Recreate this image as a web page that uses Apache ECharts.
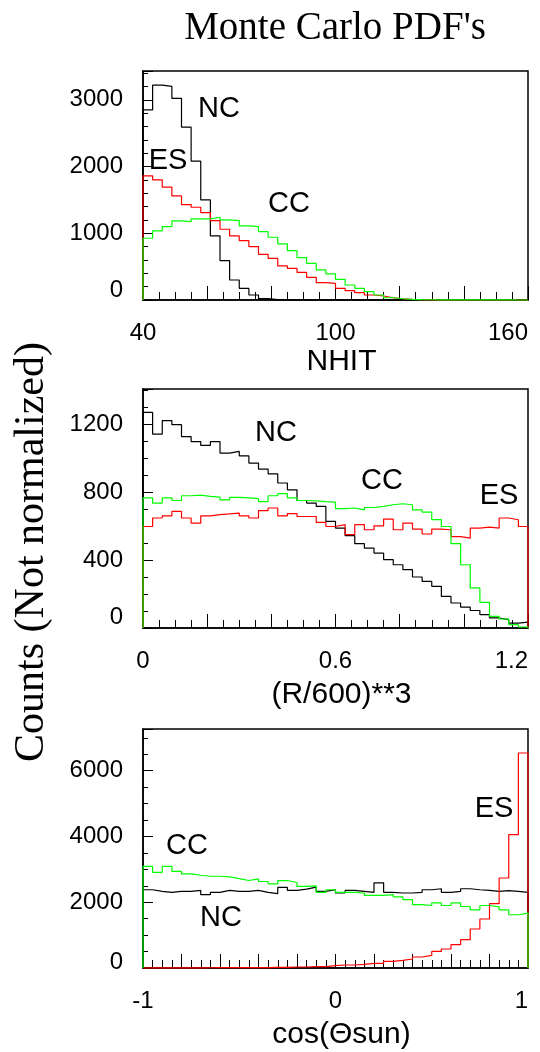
<!DOCTYPE html>
<html><head><meta charset="utf-8">
<script src="https://cdn.jsdelivr.net/npm/echarts@6/dist/echarts.min.js"></script>
<style>html,body{margin:0;padding:0;background:#fff}#c{width:540px;height:1052px}</style>
</head><body><div id="c"></div>
<script>
// ---------- data ----------
const nhitRange = [40, 160];
const nhitTickLabels = [40, 100, 160];
const nhitNC = [2850, 3220, 3200, 3020, 2590, 2080, 1500, 960, 590, 300, 175, 75, 20, 5, 0, 0, 0, 0, 0, 0,
  0, 0, 0, 0, 0, 0, 0, 0, 0, 0, 0, 0, 0, 0, 0, 0, 0, 0, 0, 0];
const nhitES = [1860, 1800, 1690, 1560, 1430, 1390, 1310, 1190, 1060, 960, 890, 800, 685, 625, 510, 475, 415, 340, 260, 250,
  175, 140, 110, 75, 60, 34, 19, 10, 6, 3, 2, 0, 0, 0, 0, 0, 0, 0, 0, 0];
const nhitCC = [925, 1035, 1100, 1185, 1175, 1215, 1215, 1240, 1200, 1190, 1110, 1100, 1025, 940, 840, 740, 635, 550, 450, 390,
  310, 225, 175, 125, 75, 34, 19, 10, 6, 4, 3, 2, 1, 1, 1, 1, 1, 1, 0, 0];

const rRange = [0, 1.2];
const rTickLabels = [0, 0.6, 1.2];
const rNC = [1268, 1141, 1220, 1196, 1126, 1097, 1074, 1097, 1029, 1039, 1013, 970, 935, 907, 853, 813, 750, 735, 715, 627,
  588, 543, 496, 470, 441, 402, 372, 343, 300, 274, 245, 186, 147, 123, 103, 79, 59, 49, 29, 35];
const rES = [597, 647, 660, 686, 647, 617, 660, 667, 671, 676, 660, 647, 691, 706, 660, 673, 656, 656, 621, 597,
  608, 549, 608, 578, 601, 641, 578, 617, 582, 553, 582, 578, 538, 529, 588, 594, 588, 647, 637, 597];
const rCC = [765, 735, 765, 750, 778, 782, 774, 770, 754, 768, 765, 761, 744, 778, 790, 765, 750, 748, 744, 741,
  702, 706, 695, 709, 715, 725, 731, 725, 695, 682, 637, 597, 496, 372, 236, 151, 68, 53, 20, 6];

const cosRange = [-1, 1];
const cosTickLabels = [-1, 0, 1];
const cosNC = [2380, 2330, 2300, 2330, 2330, 2360, 2230, 2300, 2360, 2330, 2330, 2360, 2300, 2260, 2450, 2360, 2400, 2460, 2330, 2380,
  2280, 2360, 2330, 2300, 2590, 2300, 2280, 2280, 2300, 2380, 2410, 2300, 2330, 2410, 2380, 2360, 2330, 2350, 2330, 2300];
const cosES = [2, 2, 3, 3, 4, 5, 8, 9, 10, 10, 12, 12, 14, 16, 18, 30, 30, 40, 40, 70,
  91, 91, 109, 140, 140, 201, 231, 274, 335, 383, 505, 578, 709, 861, 1186, 1490, 1955, 2737, 4054, 6538];
const cosCC = [3090, 2910, 3090, 2940, 2860, 2820, 2790, 2790, 2770, 2720, 2660, 2710, 2630, 2560, 2660, 2600, 2480, 2500, 2300, 2380,
  2300, 2300, 2280, 2210, 2210, 2230, 2160, 2080, 1930, 1900, 1980, 1900, 1980, 1870, 1770, 1900, 1860, 1770, 1620, 1670];

const yMax = [3431, 1406, 7268];
const yStep = [1000, 400, 2000];

// ---------- chart ----------
const SANS = '"Liberation Sans", Arial, Helvetica, sans-serif';
const SERIF = '"Liberation Serif", "Times New Roman", serif';
const BLACK = '#000000', RED = '#ff0000', GREEN = '#00ff00';

function histPoints(range, vals) {
  const n = vals.length, w = (range[1] - range[0]) / n;
  const pts = [[range[0], 0]];
  vals.forEach((v, i) => pts.push([range[0] + i * w, v]));
  pts.push([range[1], vals[n - 1]]);
  pts.push([range[1], 0]);
  return pts;
}

const grids = [
  { left: 143, top: 71, width: 385, height: 229 },
  { left: 143, top: 389, width: 385, height: 239 },
  { left: 143, top: 729, width: 385, height: 239 }
].map(g => Object.assign({ show: true, borderColor: BLACK, borderWidth: 1.5, backgroundColor: 'transparent', containLabel: false }, g));

function makeX(idx, range, interval, labels, name, nameGap) {
  return {
    type: 'value', gridIndex: idx, min: range[0], max: range[1], interval: interval,
    axisLine: { show: true, onZero: false, lineStyle: { color: BLACK, width: 1.5 } },
    axisTick: { show: true, inside: true, length: 14, lineStyle: { color: BLACK, width: 1 } },
    minorTick: { show: true, splitNumber: 4, length: 8, lineStyle: { color: BLACK, width: 1 } },
    splitLine: { show: false }, minorSplitLine: { show: false },
    axisLabel: {
      show: true, margin: 21, fontSize: 24, fontFamily: SANS, color: BLACK,
      showMinLabel: true, showMaxLabel: true, alignMaxLabel: 'right',
      formatter: function (v) {
        const k = labels.findIndex(l => Math.abs(l - v) < 1e-6);
        return k >= 0 ? String(labels[k]) : '';
      }
    },
    name: name, nameLocation: 'middle', nameGap: nameGap,
    nameTextStyle: { fontSize: 30, fontFamily: SANS, color: BLACK, padding: [0, 0, 0, 12] }
  };
}

function makeY(idx, max, step, split, zeroPad) {
  return {
    type: 'value', gridIndex: idx, min: 0, max: max, interval: step,
    axisLine: { show: true, onZero: false, lineStyle: { color: BLACK, width: 1.5 } },
    axisTick: { show: true, inside: true, length: 10, lineStyle: { color: BLACK, width: 1 } },
    minorTick: { show: true, splitNumber: split, length: 5, lineStyle: { color: BLACK, width: 1 } },
    splitLine: { show: false }, minorSplitLine: { show: false },
    axisLabel: {
      show: true, margin: 20, fontSize: 24, fontFamily: SANS, color: BLACK,
      showMinLabel: true, showMaxLabel: false,
      formatter: function (v) {
        if (v === 0) return '{z|0}';
        return (Math.abs(v % step) < 1e-6) ? String(v) : '';
      },
      rich: { z: { fontSize: 24, fontFamily: SANS, color: BLACK, padding: [0, 0, zeroPad, 0] } }
    }
  };
}

function hist(name, idx, range, vals, color) {
  return {
    type: 'line', name: name, xAxisIndex: idx, yAxisIndex: idx,
    data: histPoints(range, vals), step: 'end', symbol: 'none', showSymbol: false,
    clip: false, silent: true, animation: false,
    lineStyle: { color: color, width: 1.2 }, itemStyle: { color: color }
  };
}

const annotations = [
  { text: 'NC', x: 219, y: 109 }, { text: 'ES', x: 168, y: 161 }, { text: 'CC', x: 289, y: 204 },
  { text: 'NC', x: 276, y: 433 }, { text: 'CC', x: 382, y: 481 }, { text: 'ES', x: 499, y: 496 },
  { text: 'ES', x: 494, y: 809 }, { text: 'CC', x: 187, y: 846 }, { text: 'NC', x: 221, y: 918 }
];

const graphics = [
  { type: 'text', x: 335, y: 29, style: { text: "Monte Carlo PDF's", font: '39px ' + SERIF, fill: BLACK, textAlign: 'center', textVerticalAlign: 'middle' } },
  { type: 'text', x: 32, y: 552, rotation: Math.PI / 2, style: { text: 'Counts (Not normalized)', font: '42px ' + SERIF, fill: BLACK, textAlign: 'center', textVerticalAlign: 'middle' } }
].concat(annotations.map(a => ({
  type: 'text', x: a.x, y: a.y, z: 100,
  style: { text: a.text, font: '29px ' + SANS, fill: BLACK, textAlign: 'center', textVerticalAlign: 'middle' }
})));

const chart = echarts.init(document.getElementById('c'), null, { renderer: 'canvas' });
chart.setOption({
  animation: false,
  backgroundColor: '#ffffff',
  grid: grids,
  xAxis: [
    makeX(0, nhitRange, 20, nhitTickLabels, 'NHIT', 47),
    makeX(1, rRange, 0.2, rTickLabels, '(R/600)**3', 52),
    makeX(2, cosRange, 0.2, cosTickLabels, 'cos(\u0398sun)', 52)
  ],
  yAxis: [
    makeY(0, yMax[0], yStep[0], 5, 20),
    makeY(1, yMax[1], yStep[1], 4, 22),
    makeY(2, yMax[2], yStep[2], 4, 12)
  ],
  series: [
    hist('NC', 0, nhitRange, nhitNC, BLACK), hist('ES', 0, nhitRange, nhitES, RED), hist('CC', 0, nhitRange, nhitCC, GREEN),
    hist('NC', 1, rRange, rNC, BLACK), hist('ES', 1, rRange, rES, RED), hist('CC', 1, rRange, rCC, GREEN),
    hist('NC', 2, cosRange, cosNC, BLACK), hist('ES', 2, cosRange, cosES, RED), hist('CC', 2, cosRange, cosCC, GREEN)
  ],
  graphic: graphics
});
</script></body></html>
